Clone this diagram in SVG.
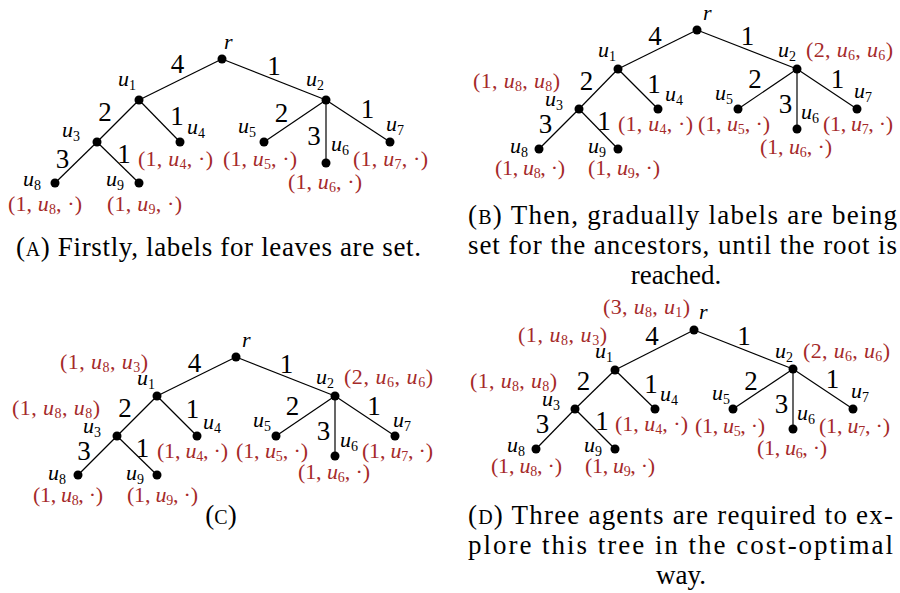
<svg xmlns="http://www.w3.org/2000/svg" width="900" height="593" viewBox="0 0 900 593">
<style>
.e{stroke:#000;stroke-width:1.2;fill:none}
.d{fill:#000}
.w{font-family:"Liberation Serif",serif;font-size:27px;text-anchor:middle;fill:#000}
.l{font-family:"Liberation Serif",serif;font-size:22px;fill:#000}
.i{font-style:italic}
.s{font-size:14px}
.r{font-family:"Liberation Serif",serif;font-size:22px;fill:#a52a2a}
.c{font-family:"Liberation Serif",serif;font-size:27px;fill:#000}
.sc{font-size:20px}
</style>
<rect width="900" height="593" fill="#fff"/>

<!-- ================= PANEL A ================= -->
<g id="a-edges">
<line class="e" x1="222" y1="59" x2="139" y2="100"/>
<line class="e" x1="222" y1="59" x2="326" y2="100"/>
<line class="e" x1="139" y1="100" x2="97" y2="142"/>
<line class="e" x1="139" y1="100" x2="180" y2="142"/>
<line class="e" x1="97" y1="142" x2="55" y2="183"/>
<line class="e" x1="97" y1="142" x2="139" y2="183"/>
<line class="e" x1="326" y1="100" x2="264" y2="142"/>
<line class="e" x1="326" y1="100" x2="326" y2="163"/>
<line class="e" x1="326" y1="100" x2="390" y2="142"/>
<text class="w" x="177.5" y="73">4</text>
<text class="w" x="274" y="75">1</text>
<text class="w" x="105" y="121">2</text>
<text class="w" x="177" y="125">1</text>
<text class="w" x="62.5" y="168">3</text>
<text class="w" x="124" y="163">1</text>
<text class="w" x="281.5" y="122">2</text>
<text class="w" x="367.5" y="118">1</text>
<text class="w" x="314" y="145">3</text>
</g>
<g id="a-r"><circle class="d" cx="222" cy="59" r="4.5"/><text class="l i" x="224" y="49">r</text></g>
<g id="a-u1"><circle class="d" cx="139" cy="100" r="4.5"/><text class="l" x="118" y="86"><tspan class="i">u</tspan><tspan class="s" dy="4">1</tspan></text></g>
<g id="a-u2"><circle class="d" cx="326" cy="100" r="4.5"/><text class="l" x="306" y="86"><tspan class="i">u</tspan><tspan class="s" dy="4">2</tspan></text></g>
<g id="a-u3"><circle class="d" cx="97" cy="142" r="4.5"/><text class="l" x="62" y="137"><tspan class="i">u</tspan><tspan class="s" dy="4">3</tspan></text></g>
<g id="a-u4"><circle class="d" cx="180" cy="142" r="4.5"/><text class="l" x="187" y="134"><tspan class="i">u</tspan><tspan class="s" dy="4">4</tspan></text>
<text class="r" x="138" y="166" textLength="75" lengthAdjust="spacing">(1, <tspan class="i">u</tspan><tspan class="s" dy="3">4</tspan><tspan dy="-3">, ·)</tspan></text></g>
<g id="a-u5"><circle class="d" cx="264" cy="142" r="4.5"/><text class="l" x="238" y="133"><tspan class="i">u</tspan><tspan class="s" dy="4">5</tspan></text>
<text class="r" x="223" y="166" textLength="74" lengthAdjust="spacing">(1, <tspan class="i">u</tspan><tspan class="s" dy="3">5</tspan><tspan dy="-3">, ·)</tspan></text></g>
<g id="a-u6"><circle class="d" cx="326" cy="163" r="4.5"/><text class="l" x="331" y="151"><tspan class="i">u</tspan><tspan class="s" dy="4">6</tspan></text>
<text class="r" x="288" y="189" textLength="74" lengthAdjust="spacing">(1, <tspan class="i">u</tspan><tspan class="s" dy="3">6</tspan><tspan dy="-3">, ·)</tspan></text></g>
<g id="a-u7"><circle class="d" cx="390" cy="142" r="4.5"/><text class="l" x="386" y="131"><tspan class="i">u</tspan><tspan class="s" dy="4">7</tspan></text>
<text class="r" x="353" y="166" textLength="75" lengthAdjust="spacing">(1, <tspan class="i">u</tspan><tspan class="s" dy="3">7</tspan><tspan dy="-3">, ·)</tspan></text></g>
<g id="a-u8"><circle class="d" cx="55" cy="183" r="4.5"/><text class="l" x="23" y="186"><tspan class="i">u</tspan><tspan class="s" dy="4">8</tspan></text>
<text class="r" x="8" y="211" textLength="74" lengthAdjust="spacing">(1, <tspan class="i">u</tspan><tspan class="s" dy="3">8</tspan><tspan dy="-3">, ·)</tspan></text></g>
<g id="a-u9"><circle class="d" cx="139" cy="183" r="4.5"/><text class="l" x="106" y="186"><tspan class="i">u</tspan><tspan class="s" dy="4">9</tspan></text>
<text class="r" x="107" y="211" textLength="75" lengthAdjust="spacing">(1, <tspan class="i">u</tspan><tspan class="s" dy="3">9</tspan><tspan dy="-3">, ·)</tspan></text></g>
<text class="c" x="16" y="256" textLength="405" lengthAdjust="spacing">(<tspan class="sc">A</tspan>) Firstly, labels for leaves are set.</text>

<!-- ================= PANEL B ================= -->
<g id="b-edges">
<line class="e" x1="697" y1="30" x2="618" y2="69"/>
<line class="e" x1="697" y1="30" x2="797" y2="69"/>
<line class="e" x1="618" y1="69" x2="579" y2="109"/>
<line class="e" x1="618" y1="69" x2="658" y2="109"/>
<line class="e" x1="579" y1="109" x2="539" y2="149"/>
<line class="e" x1="579" y1="109" x2="618" y2="149"/>
<line class="e" x1="797" y1="69" x2="738" y2="109"/>
<line class="e" x1="797" y1="69" x2="797" y2="129"/>
<line class="e" x1="797" y1="69" x2="857" y2="109"/>
<text class="w" x="655" y="45">4</text>
<text class="w" x="747.5" y="45">1</text>
<text class="w" x="586.5" y="90">2</text>
<text class="w" x="654" y="93">1</text>
<text class="w" x="545.5" y="133">3</text>
<text class="w" x="604" y="130">1</text>
<text class="w" x="755" y="88">2</text>
<text class="w" x="837.5" y="88">1</text>
<text class="w" x="785.5" y="113">3</text>
</g>
<g id="b-r"><circle class="d" cx="697" cy="30" r="4.5"/><text class="l i" x="703" y="20">r</text></g>
<g id="b-u1"><circle class="d" cx="618" cy="69" r="4.5"/><text class="l" x="598" y="57"><tspan class="i">u</tspan><tspan class="s" dy="4">1</tspan></text></g>
<g id="b-u2"><circle class="d" cx="797" cy="69" r="4.5"/><text class="l" x="778" y="57"><tspan class="i">u</tspan><tspan class="s" dy="4">2</tspan></text>
<text class="r" x="806" y="57" textLength="87" lengthAdjust="spacing">(2, <tspan class="i">u</tspan><tspan class="s" dy="3">6</tspan><tspan dy="-3">, </tspan><tspan class="i">u</tspan><tspan class="s" dy="3">6</tspan><tspan dy="-3">)</tspan></text></g>
<g id="b-u3"><circle class="d" cx="579" cy="109" r="4.5"/><text class="l" x="545" y="106"><tspan class="i">u</tspan><tspan class="s" dy="4">3</tspan></text>
<text class="r" x="473" y="88" textLength="87" lengthAdjust="spacing">(1, <tspan class="i">u</tspan><tspan class="s" dy="3">8</tspan><tspan dy="-3">, </tspan><tspan class="i">u</tspan><tspan class="s" dy="3">8</tspan><tspan dy="-3">)</tspan></text></g>
<g id="b-u4"><circle class="d" cx="658" cy="109" r="4.5"/><text class="l" x="665" y="101"><tspan class="i">u</tspan><tspan class="s" dy="4">4</tspan></text>
<text class="r" x="618" y="131" textLength="75" lengthAdjust="spacing">(1, <tspan class="i">u</tspan><tspan class="s" dy="3">4</tspan><tspan dy="-3">, ·)</tspan></text></g>
<g id="b-u5"><circle class="d" cx="738" cy="109" r="4.5"/><text class="l" x="715" y="100"><tspan class="i">u</tspan><tspan class="s" dy="4">5</tspan></text>
<text class="r" x="698" y="131" textLength="72" lengthAdjust="spacing">(1, <tspan class="i">u</tspan><tspan class="s" dy="3">5</tspan><tspan dy="-3">, ·)</tspan></text></g>
<g id="b-u6"><circle class="d" cx="797" cy="129" r="4.5"/><text class="l" x="801" y="119"><tspan class="i">u</tspan><tspan class="s" dy="4">6</tspan></text>
<text class="r" x="760" y="154" textLength="72" lengthAdjust="spacing">(1, <tspan class="i">u</tspan><tspan class="s" dy="3">6</tspan><tspan dy="-3">, ·)</tspan></text></g>
<g id="b-u7"><circle class="d" cx="857" cy="109" r="4.5"/><text class="l" x="854" y="98"><tspan class="i">u</tspan><tspan class="s" dy="4">7</tspan></text>
<text class="r" x="823" y="131" textLength="70" lengthAdjust="spacing">(1, <tspan class="i">u</tspan><tspan class="s" dy="3">7</tspan><tspan dy="-3">, ·)</tspan></text></g>
<g id="b-u8"><circle class="d" cx="539" cy="149" r="4.5"/><text class="l" x="510" y="153"><tspan class="i">u</tspan><tspan class="s" dy="4">8</tspan></text>
<text class="r" x="495" y="175" textLength="70" lengthAdjust="spacing">(1, <tspan class="i">u</tspan><tspan class="s" dy="3">8</tspan><tspan dy="-3">, ·)</tspan></text></g>
<g id="b-u9"><circle class="d" cx="618" cy="149" r="4.5"/><text class="l" x="588" y="153"><tspan class="i">u</tspan><tspan class="s" dy="4">9</tspan></text>
<text class="r" x="588" y="175" textLength="72" lengthAdjust="spacing">(1, <tspan class="i">u</tspan><tspan class="s" dy="3">9</tspan><tspan dy="-3">, ·)</tspan></text></g>
<text class="c" x="468" y="224" textLength="429" lengthAdjust="spacing">(<tspan class="sc">B</tspan>) Then, gradually labels are being</text>
<text class="c" x="468" y="254" textLength="429" lengthAdjust="spacing">set for the ancestors, until the root is</text>
<text class="c" x="676" y="284" text-anchor="middle">reached.</text>

<!-- ================= PANEL C ================= -->
<g id="c-edges">
<line class="e" x1="236" y1="357" x2="157" y2="396"/>
<line class="e" x1="236" y1="357" x2="335" y2="396"/>
<line class="e" x1="157" y1="396" x2="117" y2="436"/>
<line class="e" x1="157" y1="396" x2="197" y2="436"/>
<line class="e" x1="117" y1="436" x2="78" y2="475"/>
<line class="e" x1="117" y1="436" x2="157" y2="475"/>
<line class="e" x1="335" y1="396" x2="276" y2="436"/>
<line class="e" x1="335" y1="396" x2="335" y2="456"/>
<line class="e" x1="335" y1="396" x2="395" y2="436"/>
<text class="w" x="194.5" y="372">4</text>
<text class="w" x="286.5" y="373">1</text>
<text class="w" x="125" y="417">2</text>
<text class="w" x="192.5" y="418">1</text>
<text class="w" x="84" y="460">3</text>
<text class="w" x="142.5" y="457">1</text>
<text class="w" x="292.5" y="415">2</text>
<text class="w" x="374" y="415">1</text>
<text class="w" x="323.5" y="440">3</text>
</g>
<g id="c-r"><circle class="d" cx="236" cy="357" r="4.5"/><text class="l i" x="242" y="347">r</text></g>
<g id="c-u1"><circle class="d" cx="157" cy="396" r="4.5"/><text class="l" x="137" y="385"><tspan class="i">u</tspan><tspan class="s" dy="4">1</tspan></text>
<text class="r" x="60" y="369" textLength="88" lengthAdjust="spacing">(1, <tspan class="i">u</tspan><tspan class="s" dy="3">8</tspan><tspan dy="-3">, </tspan><tspan class="i">u</tspan><tspan class="s" dy="3">3</tspan><tspan dy="-3">)</tspan></text></g>
<g id="c-u2"><circle class="d" cx="335" cy="396" r="4.5"/><text class="l" x="316" y="384"><tspan class="i">u</tspan><tspan class="s" dy="4">2</tspan></text>
<text class="r" x="344" y="384" textLength="89" lengthAdjust="spacing">(2, <tspan class="i">u</tspan><tspan class="s" dy="3">6</tspan><tspan dy="-3">, </tspan><tspan class="i">u</tspan><tspan class="s" dy="3">6</tspan><tspan dy="-3">)</tspan></text></g>
<g id="c-u3"><circle class="d" cx="117" cy="436" r="4.5"/><text class="l" x="83" y="433"><tspan class="i">u</tspan><tspan class="s" dy="4">3</tspan></text>
<text class="r" x="12" y="415" textLength="88" lengthAdjust="spacing">(1, <tspan class="i">u</tspan><tspan class="s" dy="3">8</tspan><tspan dy="-3">, </tspan><tspan class="i">u</tspan><tspan class="s" dy="3">8</tspan><tspan dy="-3">)</tspan></text></g>
<g id="c-u4"><circle class="d" cx="197" cy="436" r="4.5"/><text class="l" x="203" y="429"><tspan class="i">u</tspan><tspan class="s" dy="4">4</tspan></text>
<text class="r" x="157" y="458" textLength="71" lengthAdjust="spacing">(1, <tspan class="i">u</tspan><tspan class="s" dy="3">4</tspan><tspan dy="-3">, ·)</tspan></text></g>
<g id="c-u5"><circle class="d" cx="276" cy="436" r="4.5"/><text class="l" x="253" y="427"><tspan class="i">u</tspan><tspan class="s" dy="4">5</tspan></text>
<text class="r" x="236" y="458" textLength="72" lengthAdjust="spacing">(1, <tspan class="i">u</tspan><tspan class="s" dy="3">5</tspan><tspan dy="-3">, ·)</tspan></text></g>
<g id="c-u6"><circle class="d" cx="335" cy="456" r="4.5"/><text class="l" x="340" y="447"><tspan class="i">u</tspan><tspan class="s" dy="4">6</tspan></text>
<text class="r" x="298" y="479" textLength="72" lengthAdjust="spacing">(1, <tspan class="i">u</tspan><tspan class="s" dy="3">6</tspan><tspan dy="-3">, ·)</tspan></text></g>
<g id="c-u7"><circle class="d" cx="395" cy="436" r="4.5"/><text class="l" x="393" y="427"><tspan class="i">u</tspan><tspan class="s" dy="4">7</tspan></text>
<text class="r" x="362" y="458" textLength="71" lengthAdjust="spacing">(1, <tspan class="i">u</tspan><tspan class="s" dy="3">7</tspan><tspan dy="-3">, ·)</tspan></text></g>
<g id="c-u8"><circle class="d" cx="78" cy="475" r="4.5"/><text class="l" x="48" y="480"><tspan class="i">u</tspan><tspan class="s" dy="4">8</tspan></text>
<text class="r" x="33" y="502" textLength="70" lengthAdjust="spacing">(1, <tspan class="i">u</tspan><tspan class="s" dy="3">8</tspan><tspan dy="-3">, ·)</tspan></text></g>
<g id="c-u9"><circle class="d" cx="157" cy="475" r="4.5"/><text class="l" x="126" y="480"><tspan class="i">u</tspan><tspan class="s" dy="4">9</tspan></text>
<text class="r" x="127" y="502" textLength="71" lengthAdjust="spacing">(1, <tspan class="i">u</tspan><tspan class="s" dy="3">9</tspan><tspan dy="-3">, ·)</tspan></text></g>
<text class="c" x="221" y="524" text-anchor="middle">(<tspan class="sc">C</tspan>)</text>

<!-- ================= PANEL D ================= -->
<g id="d-edges">
<line class="e" x1="694" y1="330" x2="615" y2="370"/>
<line class="e" x1="694" y1="330" x2="793" y2="369"/>
<line class="e" x1="615" y1="370" x2="575" y2="409"/>
<line class="e" x1="615" y1="370" x2="655" y2="409"/>
<line class="e" x1="575" y1="409" x2="536" y2="449"/>
<line class="e" x1="575" y1="409" x2="615" y2="449"/>
<line class="e" x1="793" y1="369" x2="733" y2="409"/>
<line class="e" x1="793" y1="369" x2="793" y2="429"/>
<line class="e" x1="793" y1="369" x2="853" y2="409"/>
<text class="w" x="652" y="345">4</text>
<text class="w" x="744" y="345">1</text>
<text class="w" x="583.5" y="390">2</text>
<text class="w" x="651" y="393">1</text>
<text class="w" x="542.5" y="433">3</text>
<text class="w" x="602" y="430">1</text>
<text class="w" x="751" y="390">2</text>
<text class="w" x="832.5" y="388">1</text>
<text class="w" x="781.5" y="413">3</text>
</g>
<g id="d-r"><circle class="d" cx="694" cy="330" r="4.5"/><text class="l i" x="699" y="319">r</text>
<text class="r" x="603" y="314" textLength="87" lengthAdjust="spacing">(3, <tspan class="i">u</tspan><tspan class="s" dy="3">8</tspan><tspan dy="-3">, </tspan><tspan class="i">u</tspan><tspan class="s" dy="3">1</tspan><tspan dy="-3">)</tspan></text></g>
<g id="d-u1"><circle class="d" cx="615" cy="370" r="4.5"/><text class="l" x="595" y="358"><tspan class="i">u</tspan><tspan class="s" dy="4">1</tspan></text>
<text class="r" x="518" y="342" textLength="89" lengthAdjust="spacing">(1, <tspan class="i">u</tspan><tspan class="s" dy="3">8</tspan><tspan dy="-3">, </tspan><tspan class="i">u</tspan><tspan class="s" dy="3">3</tspan><tspan dy="-3">)</tspan></text></g>
<g id="d-u2"><circle class="d" cx="793" cy="369" r="4.5"/><text class="l" x="775" y="358"><tspan class="i">u</tspan><tspan class="s" dy="4">2</tspan></text>
<text class="r" x="803" y="358" textLength="87" lengthAdjust="spacing">(2, <tspan class="i">u</tspan><tspan class="s" dy="3">6</tspan><tspan dy="-3">, </tspan><tspan class="i">u</tspan><tspan class="s" dy="3">6</tspan><tspan dy="-3">)</tspan></text></g>
<g id="d-u3"><circle class="d" cx="575" cy="409" r="4.5"/><text class="l" x="542" y="406"><tspan class="i">u</tspan><tspan class="s" dy="4">3</tspan></text>
<text class="r" x="470" y="388" textLength="87" lengthAdjust="spacing">(1, <tspan class="i">u</tspan><tspan class="s" dy="3">8</tspan><tspan dy="-3">, </tspan><tspan class="i">u</tspan><tspan class="s" dy="3">8</tspan><tspan dy="-3">)</tspan></text></g>
<g id="d-u4"><circle class="d" cx="655" cy="409" r="4.5"/><text class="l" x="660" y="401"><tspan class="i">u</tspan><tspan class="s" dy="4">4</tspan></text>
<text class="r" x="615" y="431" textLength="73" lengthAdjust="spacing">(1, <tspan class="i">u</tspan><tspan class="s" dy="3">4</tspan><tspan dy="-3">, ·)</tspan></text></g>
<g id="d-u5"><circle class="d" cx="733" cy="409" r="4.5"/><text class="l" x="712" y="400"><tspan class="i">u</tspan><tspan class="s" dy="4">5</tspan></text>
<text class="r" x="695" y="433" textLength="70" lengthAdjust="spacing">(1, <tspan class="i">u</tspan><tspan class="s" dy="3">5</tspan><tspan dy="-3">, ·)</tspan></text></g>
<g id="d-u6"><circle class="d" cx="793" cy="429" r="4.5"/><text class="l" x="797" y="420"><tspan class="i">u</tspan><tspan class="s" dy="4">6</tspan></text>
<text class="r" x="757" y="455" textLength="70" lengthAdjust="spacing">(1, <tspan class="i">u</tspan><tspan class="s" dy="3">6</tspan><tspan dy="-3">, ·)</tspan></text></g>
<g id="d-u7"><circle class="d" cx="853" cy="409" r="4.5"/><text class="l" x="851" y="398"><tspan class="i">u</tspan><tspan class="s" dy="4">7</tspan></text>
<text class="r" x="819" y="433" textLength="71" lengthAdjust="spacing">(1, <tspan class="i">u</tspan><tspan class="s" dy="3">7</tspan><tspan dy="-3">, ·)</tspan></text></g>
<g id="d-u8"><circle class="d" cx="536" cy="449" r="4.5"/><text class="l" x="507" y="452"><tspan class="i">u</tspan><tspan class="s" dy="4">8</tspan></text>
<text class="r" x="491" y="473" textLength="71" lengthAdjust="spacing">(1, <tspan class="i">u</tspan><tspan class="s" dy="3">8</tspan><tspan dy="-3">, ·)</tspan></text></g>
<g id="d-u9"><circle class="d" cx="615" cy="449" r="4.5"/><text class="l" x="584" y="452"><tspan class="i">u</tspan><tspan class="s" dy="4">9</tspan></text>
<text class="r" x="585" y="473" textLength="70" lengthAdjust="spacing">(1, <tspan class="i">u</tspan><tspan class="s" dy="3">9</tspan><tspan dy="-3">, ·)</tspan></text></g>
<text class="c" x="468" y="524" textLength="425" lengthAdjust="spacing">(<tspan class="sc">D</tspan>) Three agents are required to ex-</text>
<text class="c" x="468" y="554" textLength="425" lengthAdjust="spacing">plore this tree in the cost-optimal</text>
<text class="c" x="681" y="584" text-anchor="middle">way.</text>
</svg>
